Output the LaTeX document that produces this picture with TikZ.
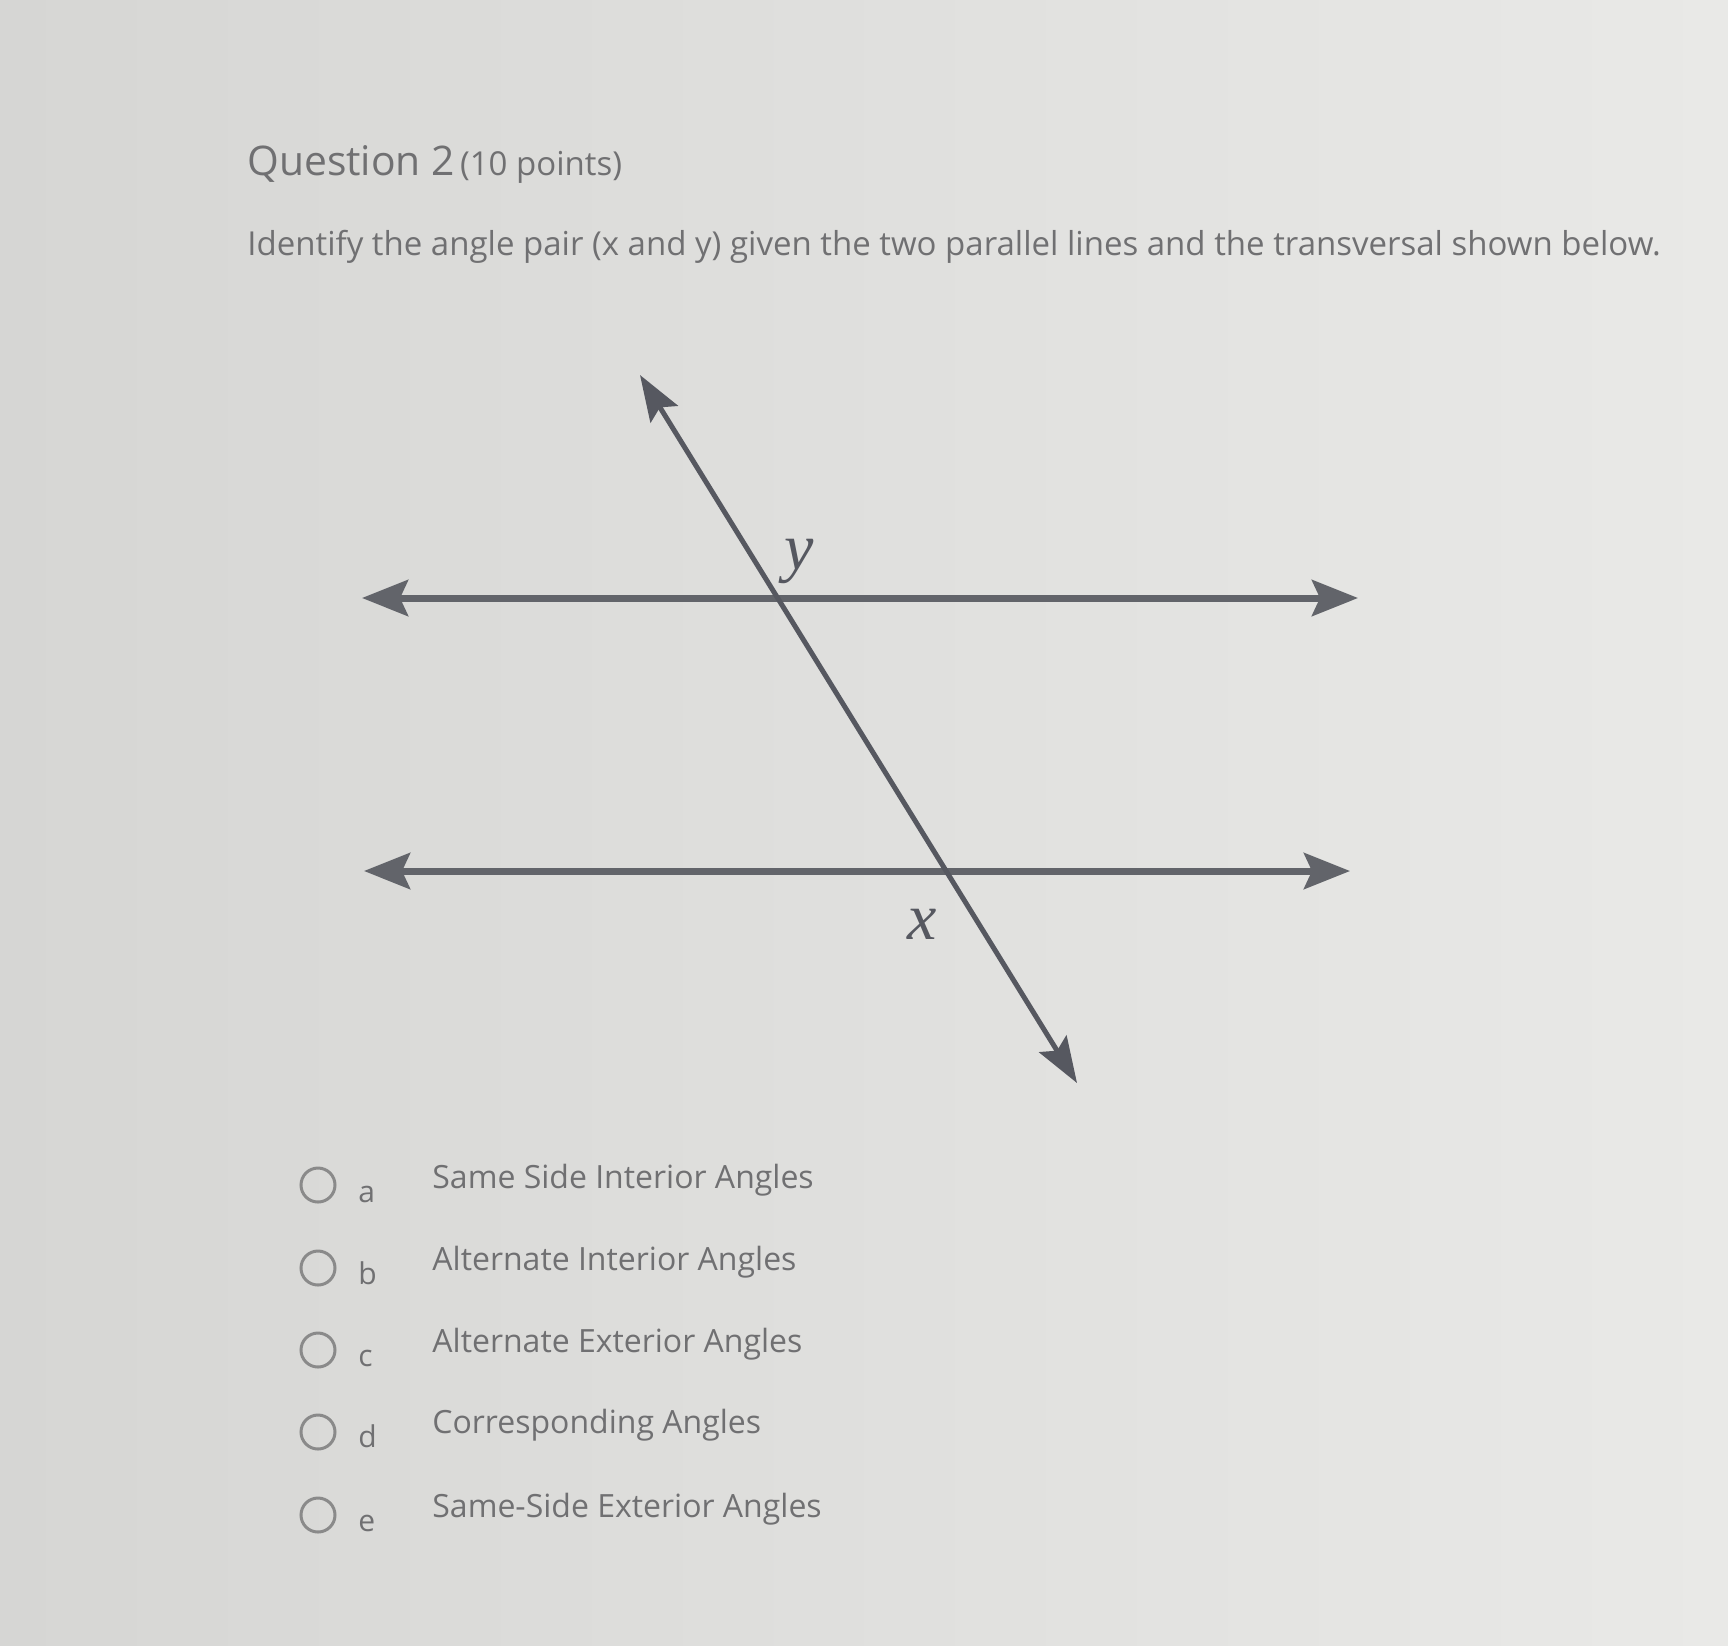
\documentclass[tikz,border=0pt]{standalone}
\usepackage{fontspec}
\setmainfont{Open Sans}
\newfontfamily\labelfont{Liberation Serif}
\usetikzlibrary{arrows.meta}

\definecolor{bgleft}{RGB}{214,214,212}
\definecolor{bgright}{RGB}{233,233,231}
\definecolor{inkgray}{RGB}{112,112,114}
\definecolor{linegray}{RGB}{86,88,96}
\definecolor{hlinegray}{RGB}{98,100,106}
\definecolor{radiogray}{RGB}{138,138,138}

\begin{document}
\begin{tikzpicture}[
    x=0.5pt, y=-0.5pt,
    every node/.style={inner sep=0pt, text=inkgray},
    parline/.style={hlinegray, line width=3.5pt,
        {Stealth[length=23pt, width=18pt, inset=4pt]}-{Stealth[length=23pt, width=18pt, inset=4pt]}},
    transline/.style={linegray, line width=2.5pt,
        {Stealth[length=23pt, width=16pt, inset=4pt]}-{Stealth[length=23pt, width=16pt, inset=4pt]}},
    anglab/.style={font=\labelfont\itshape\fontsize{33pt}{38pt}\selectfont, text=linegray},
    radio/.style={draw=radiogray, line width=1.5pt, circle, minimum size=17pt},
    optletter/.style={anchor=base west, font=\fontsize{15pt}{18pt}\selectfont},
    opttext/.style={anchor=base west, font=\fontsize{16pt}{19pt}\selectfont}
]

% --- page ---
\shade[left color=bgleft, right color=bgright] (0,0) rectangle (1728,1645);
\useasboundingbox (0,0) rectangle (1728,1645);

% --- question ---
\node[anchor=base west] (q_title) at (247,175)
    {{\fontsize{20.4pt}{24pt}\selectfont Question 2} {\fontsize{16.5pt}{20pt}\selectfont (10 points)}};
\node[anchor=base west, font=\fontsize{16.5pt}{20pt}\selectfont] (q_text) at (247,255)
    {Identify the angle pair (x and y) given the two parallel lines and the transversal shown below.};

% --- parallel lines and transversal ---
\coordinate (top_w) at (362,598);
\coordinate (top_e) at (1358,598);
\coordinate (bot_w) at (364,871);
\coordinate (bot_e) at (1350,871);
\coordinate (tr_n) at (640,375);
\coordinate (tr_s) at (1077,1083);

\draw[parline] (top_w) -- (top_e);
\draw[parline] (bot_w) -- (bot_e);
\draw[transline] (tr_n) -- (tr_s);

\node[anglab] (ang_y) at (799,561) {y};
\node[anglab] (ang_x) at (922,924) {x};

% --- answer choices ---
\node[radio] (r_a) at (318,1185) {};
\node[optletter] (l_a) at (358,1202) {a};
\node[opttext] (o_a) at (432,1188) {Same Side Interior Angles};

\node[radio] (r_b) at (318,1268) {};
\node[optletter] (l_b) at (358,1284) {b};
\node[opttext] (o_b) at (432,1270) {Alternate Interior Angles};

\node[radio] (r_c) at (318,1350) {};
\node[optletter] (l_c) at (358,1366) {c};
\node[opttext] (o_c) at (432,1352) {Alternate Exterior Angles};

\node[radio] (r_d) at (318,1432) {};
\node[optletter] (l_d) at (358,1447) {d};
\node[opttext] (o_d) at (432,1433) {Corresponding Angles};

\node[radio] (r_e) at (318,1515) {};
\node[optletter] (l_e) at (358,1531) {e};
\node[opttext] (o_e) at (432,1517) {Same-Side Exterior Angles};

\end{tikzpicture}
\end{document}
